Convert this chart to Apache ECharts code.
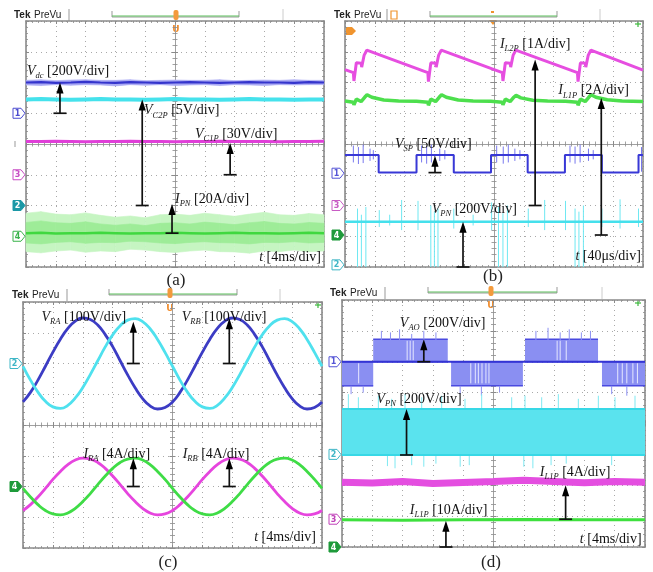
<!DOCTYPE html>
<html>
<head>
<meta charset="utf-8">
<title>Oscilloscope waveforms (a)-(d)</title>
<script src="https://cdn.jsdelivr.net/npm/echarts@6/dist/echarts.min.js"></script>
<style>
html,body{margin:0;padding:0;background:#fff;}
#chart{width:653px;height:572px;}
</style>
</head>
<body>
<div id="chart"></div>
<script>
// ============ DATA (x: time divisions 0..10, y: vertical divisions 0..8) ============
const xs21 = [0,0.5,1,1.5,2,2.5,3,3.5,4,4.5,5,5.5,6,6.5,7,7.5,8,8.5,9,9.5,10];
const xs41 = [0,0.25,0.5,0.75,1,1.25,1.5,1.75,2,2.25,2.5,2.75,3,3.25,3.5,3.75,4,4.25,4.5,4.75,
              5,5.25,5.5,5.75,6,6.25,6.5,6.75,7,7.25,7.5,7.75,8,8.25,8.5,8.75,9,9.25,9.5,9.75,10];

// ---- (a) ----
const aVdc    = [6.00,6.01,5.99,6.00,6.02,6.00,5.99,6.01,6.00,5.99,6.00,6.01,6.00,5.99,6.00,6.01,6.00,6.00,5.99,6.01,6.00];
const aVdcLo  = [5.92,5.90,5.93,5.91,5.93,5.92,5.89,5.93,5.91,5.93,5.90,5.92,5.93,5.90,5.93,5.92,5.90,5.93,5.92,5.93,5.93];
const aVdcHi  = [6.07,6.09,6.06,6.08,6.09,6.07,6.07,6.09,6.06,6.07,6.08,6.07,6.07,6.09,6.06,6.07,6.08,6.07,6.09,6.07,6.07];
const aVc2p   = [5.45,5.46,5.45,5.44,5.45,5.46,5.45,5.45,5.44,5.45,5.46,5.45,5.45,5.44,5.45,5.46,5.45,5.45,5.44,5.45,5.45];
const aVc1p   = [4.08,4.08,4.09,4.08,4.07,4.08,4.08,4.09,4.08,4.08,4.07,4.08,4.08,4.09,4.08,4.08,4.08,4.07,4.08,4.08,4.09];
const aIpn    = [1.10,1.11,1.09,1.10,1.10,1.11,1.10,1.09,1.10,1.10,1.11,1.10,1.09,1.10,1.11,1.10,1.10,1.09,1.10,1.11,1.10];
const aIpnLo  = [0.50,0.46,0.52,0.55,0.48,0.52,0.50,0.58,0.55,0.50,0.47,0.52,0.55,0.50,0.49,0.45,0.52,0.50,0.55,0.50,0.52];
const aIpnHi  = [1.75,1.80,1.72,1.70,1.76,1.68,1.62,1.66,1.60,1.70,1.72,1.68,1.75,1.70,1.65,1.72,1.78,1.70,1.68,1.74,1.70];
const aIpnLo2 = [0.78,0.75,0.80,0.82,0.77,0.80,0.79,0.84,0.82,0.78,0.76,0.80,0.82,0.79,0.78,0.75,0.80,0.79,0.82,0.78,0.80];
const aIpnHi2 = [1.45,1.50,1.44,1.42,1.47,1.40,1.36,1.40,1.35,1.42,1.44,1.40,1.46,1.42,1.38,1.44,1.48,1.42,1.40,1.45,1.42];

// ---- (b) ----
const bIl2p = [[0,6.42],[0.28,6.32],[0.30,6.05],[0.38,6.64],[0.42,6.70],[0.54,6.63],[0.56,6.50],[0.64,6.88],[0.73,7.05],
  [2.78,6.32],[2.80,6.03],[2.88,6.64],[2.92,6.70],[3.04,6.63],[3.06,6.50],[3.14,6.88],[3.23,7.05],
  [5.28,6.32],[5.30,6.05],[5.38,6.64],[5.42,6.70],[5.54,6.63],[5.56,6.50],[5.64,6.88],[5.73,7.05],
  [7.80,6.32],[7.82,6.03],[7.90,6.64],[7.94,6.70],[8.06,6.63],[8.08,6.50],[8.16,6.88],[8.25,7.05],[10,6.40]];
const bIl1p = [[0,5.40],[0.28,5.36],[0.30,5.27],[0.38,5.46],[0.44,5.45],[0.54,5.38],[0.58,5.35],[0.66,5.52],[0.74,5.60],[0.90,5.52],[1.30,5.43],[1.80,5.40],[2.40,5.39],
  [2.78,5.36],[2.80,5.26],[2.88,5.46],[2.94,5.45],[3.04,5.38],[3.08,5.35],[3.16,5.52],[3.24,5.60],[3.40,5.52],[3.80,5.43],[4.30,5.40],[4.90,5.39],
  [5.28,5.36],[5.30,5.27],[5.38,5.46],[5.44,5.45],[5.54,5.38],[5.58,5.35],[5.66,5.52],[5.74,5.58],[5.90,5.50],[6.30,5.42],[6.80,5.40],[7.40,5.39],
  [7.80,5.36],[7.82,5.26],[7.90,5.46],[7.96,5.45],[8.06,5.38],[8.10,5.35],[8.18,5.52],[8.26,5.60],[8.42,5.52],[8.80,5.44],[9.30,5.40],[10,5.38]];
const bVsp = [[0,3.64],[1.13,3.64],[1.13,3.07],[2.40,3.07],[2.40,3.64],[3.65,3.64],[3.65,3.07],[4.90,3.07],[4.90,3.64],[6.13,3.64],
  [6.13,3.07],[7.38,3.07],[7.38,3.64],[8.62,3.64],[8.62,3.07],[9.85,3.07],[9.85,3.64],[10,3.64]];
const bVspSpikes = [[0.28,3.95,3.40],[0.45,3.90,3.35],[0.61,3.98,3.38],[0.84,3.85,3.45],[0.95,3.80,3.50],
  [2.57,3.95,3.40],[2.74,3.92,3.36],[2.90,3.98,3.40],[3.18,3.85,3.45],[3.35,3.80,3.50],
  [5.09,3.95,3.40],[5.31,3.92,3.36],[5.48,3.98,3.40],[5.70,3.85,3.45],[5.87,3.80,3.50],
  [7.55,3.95,3.40],[7.72,3.92,3.36],[7.89,3.98,3.40],[8.17,3.85,3.45],[8.33,3.80,3.50],[9.95,3.90,3.10]];
const bVpn = [[0,1.47],[10,1.47]];
const bVpnSpikes = [[0.42,1.90,0],[0.55,1.70,0],[0.70,1.95,0],[2.88,2.00,0],[3.00,1.80,0],[3.12,1.90,0],
  [5.15,1.95,0],[5.30,1.75,0],[5.45,2.00,0],[7.72,1.90,0],[7.85,1.80,0],[8.00,2.00,0],
  [1.15,1.85,1.30],[1.50,1.70,1.35],[1.90,2.18,1.20],[2.45,2.15,1.20],[3.65,1.90,1.25],[4.30,1.70,1.35],
  [4.92,2.10,1.20],[6.15,1.90,1.30],[6.70,2.18,1.20],[7.40,2.15,1.20],[8.62,1.90,1.30],[9.23,2.20,1.25],[9.85,1.90,1.30]];

// ---- (c) ----  (read every 0.25 div)
const cVra = [4.75,5.06,5.46,5.91,6.37,6.79,7.14,7.38,7.48,7.43,7.25,6.94,6.55,6.09,5.63,5.21,4.86,4.62,4.52,4.57,
              4.75,5.06,5.46,5.91,6.37,6.79,7.14,7.38,7.48,7.43,7.25,6.94,6.55,6.09,5.63,5.21,4.86,4.62,4.52,4.57,4.75];
const cVrb = [5.91,5.46,5.07,4.77,4.59,4.54,4.64,4.88,5.22,5.64,6.09,6.54,6.93,7.23,7.41,7.46,7.36,7.13,6.78,6.36,
              5.91,5.46,5.07,4.77,4.59,4.54,4.64,4.88,5.22,5.64,6.09,6.54,6.93,7.23,7.41,7.46,7.36,7.13,6.78,6.36,5.91];
const cIra = [1.22,1.41,1.66,1.94,2.23,2.49,2.71,2.86,2.92,2.89,2.78,2.59,2.34,2.06,1.77,1.51,1.29,1.14,1.08,1.11,
              1.22,1.41,1.66,1.94,2.23,2.49,2.71,2.86,2.92,2.89,2.78,2.59,2.34,2.06,1.77,1.51,1.29,1.14,1.08,1.11,1.22];
const cIrb = [1.94,1.66,1.41,1.22,1.11,1.08,1.14,1.29,1.51,1.77,2.06,2.34,2.59,2.78,2.89,2.92,2.86,2.71,2.49,2.23,
              1.94,1.66,1.41,1.22,1.11,1.08,1.14,1.29,1.51,1.77,2.06,2.34,2.59,2.78,2.89,2.92,2.86,2.71,2.49,2.23,1.94];

// ---- (d) ----
const dVaoBlocks = [[0,1.03,5.22,6.00],[1.03,3.49,6.00,6.73],[3.60,5.97,5.22,6.00],[6.04,8.45,6.00,6.73],[8.58,10,5.22,6.00]];
const dVaoMid = [[0,6.00],[10,6.00]];
const dVaoSpikes = [[1.3,7.00,6.70],[1.6,6.95,6.70],[1.9,7.05,6.70],[2.3,6.90,6.70],[2.7,7.00,6.70],[3.1,6.95,6.70],
  [6.4,7.00,6.70],[6.8,7.10,6.70],[7.2,6.95,6.70],[7.5,7.05,6.70],[7.9,6.95,6.70],[8.2,7.00,6.70],
  [0.3,5.22,4.95],[0.7,5.22,5.00],[3.9,5.22,4.95],[4.6,5.22,4.90],[5.2,5.22,5.00],[8.9,5.22,4.95],[9.4,5.22,4.90]];
const dVaoGaps = [[0.55,5.30,5.95],[2.15,6.05,6.68],[2.25,6.05,6.68],[2.35,6.05,6.68],[4.25,5.30,5.95],[4.40,5.30,5.95],
  [4.50,5.30,5.95],[4.62,5.30,5.95],[4.75,5.30,5.95],[4.85,5.30,5.95],[7.10,6.05,6.68],[7.20,6.05,6.68],[7.40,6.05,6.68],
  [9.10,5.30,5.95],[9.25,5.30,5.95],[9.40,5.30,5.95],[9.60,5.30,5.95],[9.75,5.30,5.95]];
const dVpnBand = [[0,10,2.98,4.47]];
const dVpnSpikes = [[0.21,4.95,4.40],[0.54,4.85,4.40],[1.20,4.90,4.40],[1.64,4.80,4.40],[2.08,4.95,4.40],[2.63,4.85,4.40],
  [3.29,4.90,4.40],[4.06,4.80,4.40],[4.61,4.95,4.40],[5.60,4.85,4.40],[6.04,4.90,4.40],[6.59,4.85,4.40],[7.14,4.95,4.40],
  [7.80,4.80,4.40],[8.46,4.90,4.40],[9.01,4.85,4.40],[9.67,4.90,4.40],
  [1.50,3.00,2.62],[1.75,3.00,2.55],[2.30,3.00,2.65],[2.70,3.00,2.60],[3.10,3.00,2.70],[3.90,3.00,2.60],[4.20,3.00,2.65],
  [6.00,3.00,2.60],[6.30,3.00,2.55],[6.90,3.00,2.65],[7.40,3.00,2.70],[8.90,3.00,2.65]];
const dIl1p4  = [[0,2.10],[1,2.07],[2,2.12],[3,2.06],[4,2.09],[5,2.12],[6,2.16],[7,2.12],[8,2.08],[9,2.12],[10,2.10]];
const dIl1p10 = [[0,0.88],[2,0.87],[4,0.88],[6,0.89],[8,0.88],[10,0.88]];

// ---- annotations: [symbol, subscript, text, x, y, align] and arrows [x, base, tip] ----
const labA = [['V','dc',' [200V/div]',0.03,6.37,'left'],['V','C2P',' [5V/div]',3.96,5.08,'left'],['V','C1P',' [30V/div]',5.67,4.33,'left'],['I','PN',' [20A/div]',5.0,2.2,'left'],['t','',' [4ms/div]',9.9,0.32,'right']];
const arrA = [[1.14,5.0,6.0],[3.9,2.0,5.45],[6.85,3.0,4.03],[4.9,1.1,2.05]];
const labB = [['I','L2P',' [1A/div]',5.2,7.25,'left'],['I','L1P',' [2A/div]',7.16,5.73,'left'],['V','SP',' [50V/div]',1.68,4.0,'left'],['V','PN',' [200V/div]',2.91,1.89,'left'],['t','',' [40\u03bcs/div]',9.93,0.34,'right']];
const arrB = [[6.38,2.0,6.75],[8.6,1.04,5.5],[3.02,3.07,3.62],[3.96,0,1.47]];
const labC = [['V','RA',' [100V/div]',0.62,7.5,'left'],['V','RB',' [100V/div]',5.31,7.5,'left'],['I','RA',' [4A/div]',2.02,3.06,'left'],['I','RB',' [4A/div]',5.34,3.06,'left'],['t','',' [4ms/div]',9.8,0.34,'right']];
const arrC = [[3.69,6.0,7.36],[6.9,6.0,7.47],[3.69,2.0,2.92],[6.9,2.0,2.92]];
const labD = [['V','AO',' [200V/div]',1.91,7.25,'left'],['V','PN',' [200V/div]',1.14,4.79,'left'],['I','L1P',' [4A/div]',6.53,2.42,'left'],['I','L1P',' [10A/div]',2.24,1.18,'left'],['t','',' [4ms/div]',9.89,0.26,'right']];
const arrD = [[2.7,6.0,6.73],[2.13,2.98,4.47],[7.38,0.9,2.0],[3.43,0,0.85]];
// channel markers: [level, label, colour, filled]
const chA = [[5.0,'1','#4b4bd0',false],[3.0,'3','#c84cc4',false],[2.0,'2','#1b98a6',true],[1.0,'4','#38b34a',false]];
const chB = [[3.05,'1','#5555d6',false],[2.0,'3','#c85cc4',false],[1.04,'4','#1e9a3a',true],[0.07,'2','#3fb6c6',false]];
const chC = [[6.0,'2','#3fb6c6',false],[2.0,'4','#1e9a3a',true]];
const chD = [[6.0,'1','#5555d6',false],[3.0,'2','#3fb6c6',false],[0.9,'3','#c040b8',false],[0.0,'4','#1e9a3a',true]];

// ============ CHART ============
const SERIF = '"Liberation Serif","Times New Roman",serif';
const GRIDS = [
  {left:26, top:21, width:298, height:246},
  {left:345, top:21, width:298, height:246},
  {left:23, top:302, width:299, height:246},
  {left:342, top:300, width:303, height:247}
];
const BORDER = '#8a8a8a';
const grid = [], xAxis = [], yAxis = [], series = [];

GRIDS.forEach(function (g, gi) {
  grid.push(Object.assign({show:false, containLabel:false, outerBoundsMode:'none'}, g));
  const base = gi * 4;
  const tick = function (inside, len) { return {show:true, inside:inside, length:len, lineStyle:{color:BORDER, width:1}}; };
  const minor = function (len) { return {show:true, splitNumber:5, length:len, lineStyle:{color:BORDER, width:0.8}}; };
  const border = {show:true, onZero:false, lineStyle:{color:BORDER, width:1.6}};
  xAxis.push({gridIndex:gi, type:'value', min:0, max:10, interval:1, position:'bottom', axisLine:border,
    axisTick:tick(true,3), minorTick:minor(2), axisLabel:{show:false},
    splitLine:{show:true, lineStyle:{color:'#a9a9a9', width:1, type:[1,4]}}});
  xAxis.push({gridIndex:gi, type:'value', min:0, max:10, interval:1, position:'top', axisLine:border,
    axisTick:tick(true,3), minorTick:minor(2), axisLabel:{show:false}, splitLine:{show:false}});
  [true,false].forEach(function (ins) {
    xAxis.push({gridIndex:gi, type:'value', min:-5, max:5, interval:1, position:'bottom',
      axisLine:{show:true, onZero:true, onZeroAxisIndex:base+2, lineStyle:{color:'#a0a0a0', width:1}},
      axisTick:tick(ins,3), minorTick:minor(2.5), axisLabel:{show:false}, splitLine:{show:false}});
  });
  yAxis.push({gridIndex:gi, type:'value', min:0, max:8, interval:1, position:'left', axisLine:border,
    axisTick:tick(true,3), minorTick:minor(2), axisLabel:{show:false},
    splitLine:{show:true, lineStyle:{color:'#a9a9a9', width:1, type:[1,4]}}});
  yAxis.push({gridIndex:gi, type:'value', min:0, max:8, interval:1, position:'right', axisLine:border,
    axisTick:tick(true,3), minorTick:minor(2), axisLabel:{show:false}, splitLine:{show:false}});
  [true,false].forEach(function (ins) {
    yAxis.push({gridIndex:gi, type:'value', min:-4, max:4, interval:1, position:'left',
      axisLine:{show:true, onZero:true, onZeroAxisIndex:base+2, lineStyle:{color:'#a0a0a0', width:1}},
      axisTick:tick(ins,3), minorTick:minor(2.5), axisLabel:{show:false}, splitLine:{show:false}});
  });
});

function zip(xs, ys) { return xs.map(function (x, i) { return [x, ys[i]]; }); }
function ax(gi) { return {xAxisIndex:gi*4, yAxisIndex:gi*4}; }

function L(gi, data, color, width, extra) {
  series.push(Object.assign({type:'line', data:data, symbol:'none', silent:true, z:3, animation:false,
    lineStyle:{color:color, width:width}}, ax(gi), extra || {}));
}
function B(gi, xs, lo, hi, color) {
  series.push(Object.assign({type:'custom', silent:true, z:2, animation:false,
    data: xs.map(function (x, i) { return [x, lo[i], hi[i]]; }), encode:{x:0, y:[1,2]},
    renderItem: function (params, api) {
      const i = params.dataIndex;
      if (i >= xs.length - 1) return null;
      const pts = [api.coord([xs[i], hi[i]]), api.coord([xs[i+1], hi[i+1]]), api.coord([xs[i+1], lo[i+1]]), api.coord([xs[i], lo[i]])];
      return {type:'polygon', shape:{points:pts}, style:{fill:color, stroke:color, lineWidth:0.6}};
    }}, ax(gi)));
}
function R(gi, blocks, fill, edge, edgeW) {
  series.push(Object.assign({type:'custom', silent:true, z:2, animation:false, data:blocks, encode:{x:[0,1], y:[2,3]},
    renderItem: function (params, api) {
      const a = api.coord([api.value(0), api.value(3)]);
      const b = api.coord([api.value(1), api.value(2)]);
      const ch = [{type:'rect', shape:{x:a[0], y:a[1], width:b[0]-a[0], height:b[1]-a[1]}, style:{fill:fill}}];
      if (edge) {
        ch.push({type:'line', shape:{x1:a[0], y1:a[1], x2:b[0], y2:a[1]}, style:{stroke:edge, lineWidth:edgeW}});
        ch.push({type:'line', shape:{x1:a[0], y1:b[1], x2:b[0], y2:b[1]}, style:{stroke:edge, lineWidth:edgeW}});
      }
      return {type:'group', children:ch};
    }}, ax(gi)));
}
function S(gi, spikes, color, width, z) {
  series.push(Object.assign({type:'custom', silent:true, z:z || 2, animation:false, data:spikes, encode:{x:0, y:[1,2]},
    renderItem: function (params, api) {
      const a = api.coord([api.value(0), api.value(1)]);
      const b = api.coord([api.value(0), api.value(2)]);
      return {type:'line', shape:{x1:a[0], y1:a[1], x2:b[0], y2:b[1]}, style:{stroke:color, lineWidth:width}};
    }}, ax(gi)));
}
function A(gi, arrows) {
  series.push(Object.assign({type:'custom', silent:true, z:10, clip:false, animation:false, data:arrows, encode:{x:0, y:[1,2]},
    renderItem: function (params, api) {
      const b = api.coord([api.value(0), api.value(1)]);
      const t = api.coord([api.value(0), api.value(2)]);
      return {type:'group', children:[
        {type:'line', shape:{x1:b[0], y1:b[1], x2:t[0], y2:t[1]+8}, style:{stroke:'#111', lineWidth:1.7}},
        {type:'line', shape:{x1:b[0]-6.5, y1:b[1], x2:b[0]+6.5, y2:b[1]}, style:{stroke:'#111', lineWidth:1.7}},
        {type:'polygon', shape:{points:[[t[0], t[1]], [t[0]-3.6, t[1]+11], [t[0]+3.6, t[1]+11]]}, style:{fill:'#000'}}
      ]};
    }}, ax(gi)));
}
const RICH = {
  m:{fontFamily:SERIF, fontStyle:'italic', fontSize:14, lineHeight:18, fill:'#1a1a1a'},
  s:{fontFamily:SERIF, fontStyle:'italic', fontSize:8.5, lineHeight:10, verticalAlign:'bottom', fill:'#1a1a1a'},
  n:{fontFamily:SERIF, fontSize:14, lineHeight:18, fill:'#111'}
};
function T(gi, labels) {
  series.push(Object.assign({type:'custom', silent:true, z:11, clip:false, animation:false,
    data: labels.map(function (l) { return [l[3], l[4]]; }), encode:{x:0, y:1},
    renderItem: function (params, api) {
      const l = labels[params.dataIndex];
      const p = api.coord([api.value(0), api.value(1)]);
      const txt = '{m|' + l[0] + '}' + (l[1] ? '{s|' + l[1] + '}' : '') + '{n|' + l[2] + '}';
      return {type:'text', x:p[0], y:p[1], style:{text:txt, rich:RICH, align:l[5], verticalAlign:'middle'}};
    }}, ax(gi)));
}
function M(gi, marks) {
  series.push(Object.assign({type:'custom', silent:true, z:12, clip:false, animation:false,
    data: marks.map(function (m) { return [0, m[0]]; }), encode:{x:0, y:1},
    renderItem: function (params, api) {
      const m = marks[params.dataIndex];
      const p = api.coord([0, api.value(1)]);
      const tx = p[0] - 1, ty = p[1];
      const pts = [[tx-12, ty-5], [tx-4, ty-5], [tx, ty], [tx-4, ty+5], [tx-12, ty+5]];
      return {type:'group', children:[
        {type:'polygon', shape:{points:pts}, style:{fill:m[3] ? m[2] : '#fff', stroke:m[2], lineWidth:1}},
        {type:'text', x:tx-7.5, y:ty+0.5, style:{text:m[1], fill:m[3] ? '#fff' : m[2], font:'bold 8px "DejaVu Sans"', align:'center', verticalAlign:'middle'}}
      ]};
    }}, ax(gi)));
}

// ---- (a) traces ----
B(0, xs21, aVdcLo, aVdcHi, '#a9a9f3');
L(0, zip(xs21, aVdc), '#3434cc', 2.2);
L(0, zip(xs21, aVc2p), '#45e2ec', 4);
L(0, zip(xs21, aVc1p), '#e03fd8', 3);
B(0, xs21, aIpnLo, aIpnHi, '#c6f5c2');
B(0, xs21, aIpnLo2, aIpnHi2, '#9eec98');
L(0, zip(xs21, aIpn), '#3fd83f', 2.5);
A(0, arrA); T(0, labA); M(0, chA);

// ---- (b) traces ----
L(1, bIl2p, '#e64ee0', 3);
L(1, bIl1p, '#4ddf4d', 3.5);
S(1, bVspSpikes, '#7878ee', 1, 3);
L(1, bVsp, '#3838d6', 2);
S(1, bVpnSpikes, '#6ee8f2', 1, 3);
L(1, bVpn, '#45e0ec', 2.5);
A(1, arrB); T(1, labB); M(1, chB);

// ---- (c) traces ----
L(2, zip(xs41, cVra), '#3c3cc4', 2.8, {smooth:true});
L(2, zip(xs41, cVrb), '#4fe1ee', 2.8, {smooth:true});
L(2, zip(xs41, cIra), '#e645de', 2.8, {smooth:true});
L(2, zip(xs41, cIrb), '#3fdc46', 2.8, {smooth:true});
A(2, arrC); T(2, labC); M(2, chC);

// ---- (d) traces ----
R(3, dVaoBlocks, '#8a8ff2', '#4a4ae0', 1.5);
S(3, dVaoGaps, '#e6e8ff', 1, 3);
S(3, dVaoSpikes, '#8c90f2', 1, 2);
L(3, dVaoMid, '#3434d4', 2);
S(3, dVpnSpikes, '#7fe9f2', 1, 2);
R(3, dVpnBand, '#5ae3ee', '#38d8e6', 2);
L(3, dIl1p4, '#e44ee0', 7);
L(3, dIl1p10, '#3ee03e', 3);
A(3, arrD); T(3, labD); M(3, chD);

// ---- decorations (scope header, captions) ----
const graphic = [];
function header(h) {
  graphic.push({type:'text', x:h.tx, y:h.ty, style:{text:'Tek', font:'bold 10px "Liberation Sans"', fill:'#222', verticalAlign:'middle'}});
  graphic.push({type:'text', x:h.tx+20, y:h.ty, style:{text:'PreVu', font:'10px "Liberation Sans"', fill:'#222', verticalAlign:'middle'}});
  graphic.push({type:'line', shape:{x1:h.sep, y1:h.ty-6, x2:h.sep, y2:h.ty+6}, style:{stroke:'#999', lineWidth:1}});
  graphic.push({type:'line', shape:{x1:h.rx, y1:h.ty-6, x2:h.rx, y2:h.ty+6}, style:{stroke:'#ccc', lineWidth:1}});
  graphic.push({type:'polyline', shape:{points:[[h.b0, h.by], [h.b0, h.by+6], [h.b1, h.by+6], [h.b1, h.by]]}, style:{stroke:'#999', lineWidth:1, fill:null}});
  graphic.push({type:'line', shape:{x1:h.b0, y1:h.by+5, x2:h.b1, y2:h.by+5}, style:{stroke:'#5cbf5c', lineWidth:1.2}});
  if (h.trig) {
    graphic.push({type:'rect', shape:{x:h.trig-2.5, y:h.by-1, width:5, height:10, r:2}, style:{fill:'#f39a3c'}});
    graphic.push({type:'text', x:h.trig, y:h.uy, style:{text:'U', font:'bold 9px "DejaVu Sans"', fill:'#f08a28', align:'center', verticalAlign:'middle'}});
  }
}
header({tx:14, ty:15, sep:69, rx:283, b0:112, b1:239, by:11, trig:176, uy:30});
header({tx:334, ty:15, sep:387, rx:600, b0:430, b1:557, by:11});
header({tx:12, ty:295, sep:67, rx:280, b0:109, b1:237, by:289, trig:170, uy:309});
header({tx:330, ty:293, sep:385, rx:602, b0:428, b1:557, by:287, trig:491, uy:306});
// panel (b) orange markers
graphic.push({type:'rect', shape:{x:391, y:11, width:6, height:8}, style:{fill:null, stroke:'#f0942e', lineWidth:1.2}});
graphic.push({type:'rect', shape:{x:491, y:11, width:3, height:2}, style:{fill:'#f0942e'}});
graphic.push({type:'polygon', shape:{points:[[489,20],[497,20],[493,25]]}, style:{fill:'#f0942e'}});
graphic.push({type:'polygon', shape:{points:[[346,27],[352,27],[356,31],[352,35],[346,35]]}, style:{fill:'#f0942e'}});
// grey marker (a)
graphic.push({type:'line', shape:{x1:15, y1:141, x2:15, y2:147}, style:{stroke:'#999', lineWidth:1}});
// green plus marks
[[638,24],[318,305],[638,303]].forEach(function (p) {
  graphic.push({type:'line', shape:{x1:p[0]-3, y1:p[1], x2:p[0]+3, y2:p[1]}, style:{stroke:'#3cb83c', lineWidth:1.2}});
  graphic.push({type:'line', shape:{x1:p[0], y1:p[1]-3, x2:p[0], y2:p[1]+3}, style:{stroke:'#3cb83c', lineWidth:1.2}});
});
// captions
[['(a)',176,281],['(b)',493,277],['(c)',168,563],['(d)',491,563]].forEach(function (c) {
  graphic.push({type:'text', x:c[1], y:c[2], style:{text:c[0], font:'17px ' + SERIF, fill:'#222', align:'center', verticalAlign:'middle'}});
});

const chart = echarts.init(document.getElementById('chart'), null, {renderer:'canvas', width:653, height:572});
chart.setOption({
  animation:false,
  backgroundColor:'#ffffff',
  grid:grid, xAxis:xAxis, yAxis:yAxis, series:series,
  graphic:{elements:graphic}
});
</script>
</body>
</html>
